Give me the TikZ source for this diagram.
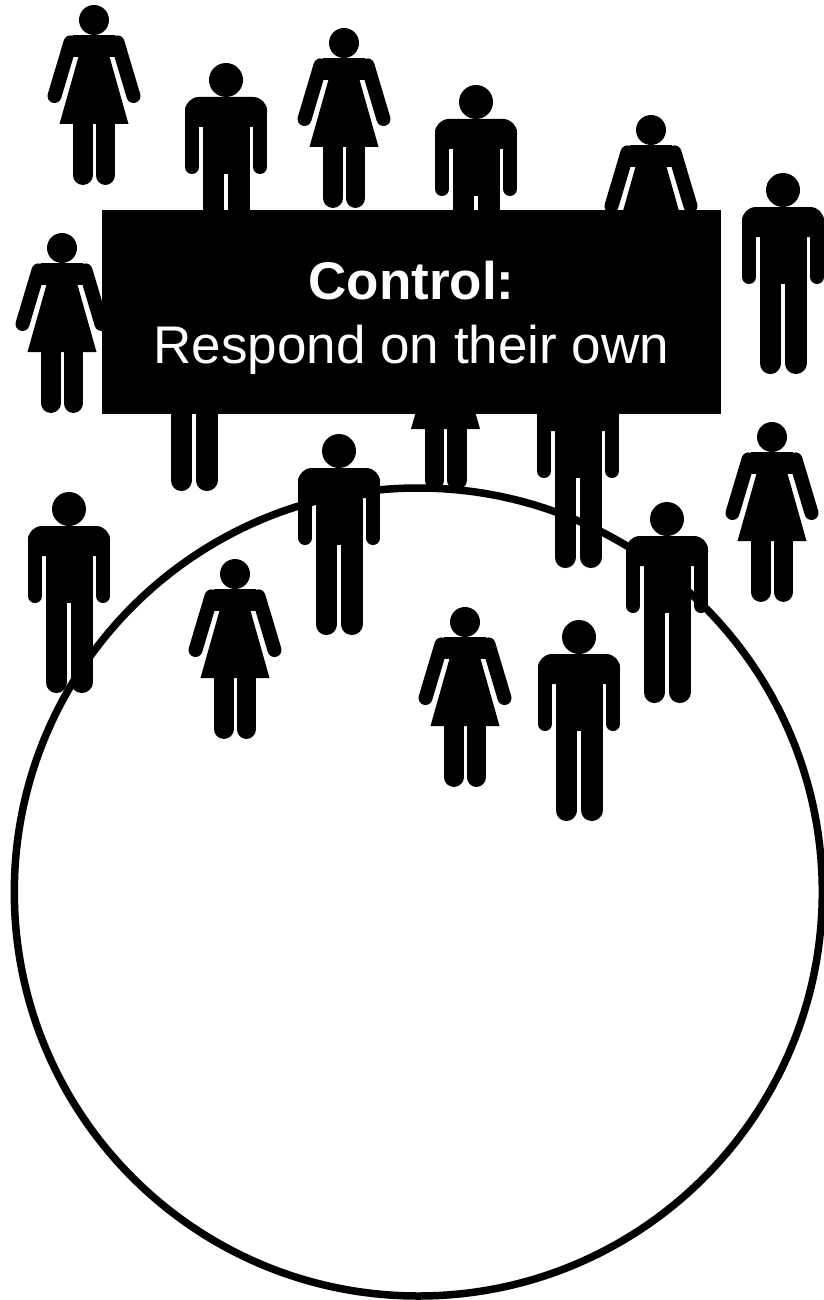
\documentclass[tikz,border=0pt]{standalone}
\usepackage{fontspec}
\setmainfont{Liberation Sans}
\usetikzlibrary{positioning}

\tikzset{
  limb/.style={draw=black, line cap=round},
  man/.pic={
    \fill (0,0) circle (17);
    \fill [rounded corners=14pt] (-41,47) -- (-41,17) -- (41,17) -- (41,47) -- cycle;
    \fill (-23.5,40) rectangle (23.5,94);
    \draw [limb, line width=14pt] (-34,30) -- (-34,87);
    \draw [limb, line width=14pt] (34,30) -- (34,87);
    \fill (-23.5,94) rectangle (-2,120);
    \fill (23.5,94) rectangle (2,120);
    \draw [limb, line width=21.5pt] (-12.75,120) -- (-12.75,173.3);
    \draw [limb, line width=21.5pt] (12.75,120) -- (12.75,173.3);
  },
  woman/.pic={
    \fill (0,0) circle (15);
    \fill (-21,15.4) rectangle (21,37);
    \fill (-15.3,36) -- (15.3,36) -- (34.5,104) -- (-34.5,104) -- cycle;
    \draw [limb, line width=14pt] (23.5,22.4) -- (39.5,76);
    \draw [limb, line width=14pt] (-23.5,22.4) -- (-39.5,76);
    \fill (-21,104) rectangle (-1.5,130);
    \fill (21,104) rectangle (1.5,130);
    \draw [limb, line width=19.5pt] (-11.25,130) -- (-11.25,155.2);
    \draw [limb, line width=19.5pt] (11.25,130) -- (11.25,155.2);
  },
  titlebox/.style={fill=black, inner sep=0pt, minimum width=619pt, minimum height=204pt},
  titletext/.style={text=white, align=center, inner sep=0pt, font=\fontsize{53}{64}\selectfont}
}

\begin{document}
\begin{tikzpicture}[x=1pt, y=-1pt]
  \useasboundingbox (0,0) rectangle (823,1300);

  % Circle
  \draw [line width=7.5pt] (418.3,892) circle (404);

  % People
  \foreach \px/\py in {94/20, 344/43, 651/130, 62/248, 445.5/325, 772/437, 235/574, 465/622}
    \pic at (\px,\py) {woman};
  \foreach \px/\py in {226/80, 476/102, 783/190, 194/307, 578/384, 69/509, 339/451, 667/519, 579/637}
    \pic at (\px,\py) {man};

  % Label
  \node [titlebox] (control) at (411.5,312) {};
  \node [titletext] (controltext) at ([yshift=-6pt]control.center) {\textbf{Control:}\\Respond on their own};
\end{tikzpicture}
\end{document}
